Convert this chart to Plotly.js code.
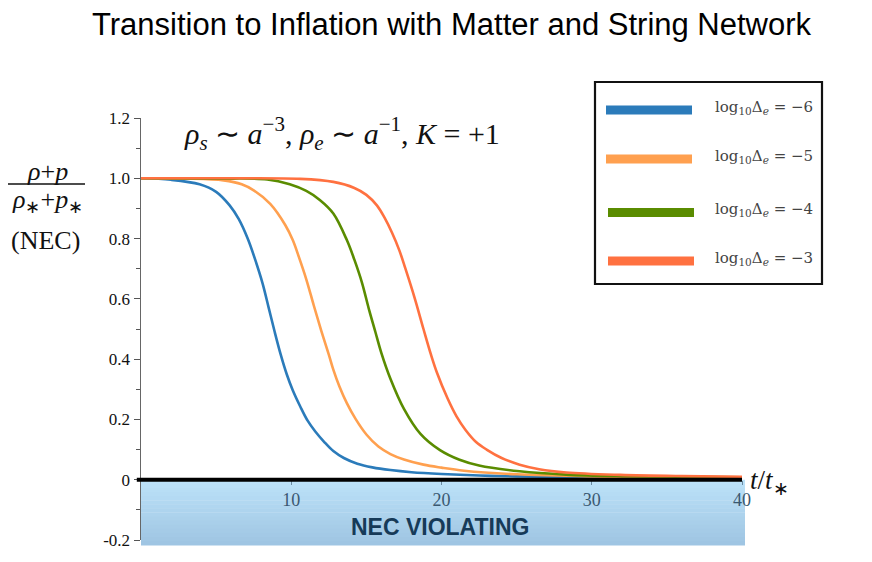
<!DOCTYPE html>
<html>
<head>
<meta charset="utf-8">
<script src="https://cdn.plot.ly/plotly-3.0.1.min.js"></script>
<style>html,body{margin:0;padding:0;background:#fff;}#chart{width:872px;height:562px;}</style>
</head>
<body>
<div id="chart"></div>
<script>
// ---- data ----
const seriesNames = ["-6", "-5", "-4", "-3"];
const seriesColors = ["#2b7bba", "#ffa04f", "#5a8c00", "#ff7140"];

const tBlue = [0, 2, 3.9, 5.0, 5.9, 6.5, 7.1, 7.6, 8.1, 8.5, 8.9, 9.3, 9.7, 10.1, 10.6, 11.1, 11.6, 12.2, 12.8, 13.5, 14.4, 15.4, 16.6, 18, 20, 22.5, 25, 30, 35, 40];
const vBlue = [1.0, 0.995, 0.98, 0.955, 0.91, 0.865, 0.80, 0.73, 0.65, 0.57, 0.49, 0.415, 0.35, 0.297, 0.243, 0.195, 0.16, 0.125, 0.095, 0.072, 0.053, 0.041, 0.032, 0.025, 0.019, 0.014, 0.011, 0.008, 0.006, 0.005];

const tOrange = [0, 3, 5.5, 6.7, 7.5, 8.6, 9.6, 10.1, 10.5, 11.0, 11.5, 12.0, 12.5, 12.8, 13.2, 13.7, 14.3, 15.0, 15.8, 16.6, 17.5, 18.8, 20, 21.5, 25, 30, 35, 40];
const vOrange = [1.0, 0.999, 0.993, 0.98, 0.96, 0.915, 0.845, 0.795, 0.74, 0.665, 0.578, 0.494, 0.415, 0.365, 0.31, 0.254, 0.2, 0.15, 0.11, 0.085, 0.067, 0.05, 0.04, 0.03, 0.018, 0.011, 0.008, 0.007];

const tGreen = [0, 5, 8.4, 9.9, 11.0, 11.9, 12.8, 13.7, 14.2, 14.7, 15.2, 15.6, 16.0, 16.6, 17.5, 18.6, 19.9, 21.2, 22.5, 25.2, 28.3, 32, 36, 40];
const vGreen = [1.0, 0.999, 0.996, 0.98, 0.958, 0.928, 0.883, 0.795, 0.73, 0.655, 0.56, 0.49, 0.42, 0.335, 0.235, 0.152, 0.098, 0.066, 0.047, 0.028, 0.017, 0.012, 0.01, 0.008];

const tRed = [0, 6, 10.6, 12.8, 14.2, 15.0, 15.7, 16.2, 16.7, 17.2, 17.6, 18.2, 18.8, 19.3, 19.7, 20.4, 21.0, 21.6, 22.3, 23.0, 24, 25.2, 26.5, 28.3, 31.9, 36, 40];
const vRed = [1.0, 1.0, 0.998, 0.988, 0.968, 0.945, 0.91, 0.87, 0.82, 0.76, 0.70, 0.605, 0.5, 0.415, 0.355, 0.27, 0.21, 0.165, 0.125, 0.1, 0.072, 0.05, 0.035, 0.024, 0.016, 0.012, 0.01];

const yTickVals = [-0.2, 0, 0.2, 0.4, 0.6, 0.8, 1.0, 1.2];
const yTickText = ["-0.2", "0", "0.2", "0.4", "0.6", "0.8", "1.0", "1.2"];
const xTickVals = [10, 20, 30, 40];
const xTickText = ["10", "20", "30", "40"];

const xs = [tBlue, tOrange, tGreen, tRed];
const ys = [vBlue, vOrange, vGreen, vRed];

// ---- traces ----
const traces = xs.map((x, i) => ({
  x: x, y: ys[i], type: "scatter", mode: "lines",
  line: {color: seriesColors[i], width: 2.6, shape: "spline", smoothing: 1.0},
  name: "log10Δe = " + seriesNames[i], showlegend: false, hoverinfo: "skip"
}));

// ---- NEC violating gradient band ----
const shapes = [];
const nStrips = 16;
const topC = [189, 227, 249], botC = [158, 196, 226];
const zeroFrac = 0.2 / 1.4;
const bandBottom = -0.012, bandRight = 1.005;
for (let k = 0; k < nStrips; k++) {
  const f = (k + 0.5) / nStrips;
  const c = topC.map((v, j) => Math.round(v + (botC[j] - v) * f));
  const y1 = zeroFrac - (zeroFrac - bandBottom) * k / nStrips;
  const y0 = zeroFrac - (zeroFrac - bandBottom) * (k + 1) / nStrips - 0.001;
  shapes.push({type: "rect", xref: "paper", yref: "paper", x0: 0, x1: bandRight, y0: y0, y1: y1,
    fillcolor: "rgb(" + c.join(",") + ")", line: {width: 0}, layer: "below"});
}
// thick zero line
shapes.push({type: "line", xref: "paper", yref: "y", x0: -0.007, x1: 1.0, y0: 0, y1: 0,
  line: {color: "#000", width: 4}, layer: "above"});

const px = v => (v - 141) / 601;
const py = v => (540 - v) / 422;

// fraction bar for y label
shapes.push({type: "line", xref: "paper", yref: "paper", x0: px(8), x1: px(85),
  y0: py(184), y1: py(184), line: {color: "#111", width: 1.4}});

// ---- custom legend ----
const legL = 595, legR = 822, legT = 82, legB = 284;
shapes.push({type: "rect", xref: "paper", yref: "paper", x0: px(legL), x1: px(legR), y0: py(legB), y1: py(legT),
  fillcolor: "#fff", line: {color: "#111", width: 2.2}});
const legRows = [110, 159, 212.5, 261];
const annotations = [];
seriesNames.forEach((nm, i) => {
  const off = (i >= 2 ? 2 : 0);
  shapes.push({type: "line", xref: "paper", yref: "paper", x0: px(606 + off), x1: px(692 + off),
    y0: py(legRows[i]), y1: py(legRows[i]), line: {color: seriesColors[i], width: 9}});
  annotations.push({xref: "paper", yref: "paper", x: px(713), y: py(legRows[i] - 3), xanchor: "left", yanchor: "middle",
    showarrow: false, text: "log<sub>10</sub>Δ<sub><i>e</i></sub> = −" + nm.replace("-", ""),
    font: {family: "DejaVu Serif, serif", size: 15, color: "#444"}});
});

// other annotations
annotations.push(
  {xref: "paper", yref: "paper", x: px(452), y: py(25), xanchor: "center", yanchor: "middle", showarrow: false,
   text: "Transition to Inflation with Matter and String Network",
   font: {family: "Liberation Sans, Arial, sans-serif", size: 31, color: "#000"}},
  {xref: "paper", yref: "paper", x: px(342), y: py(134), xanchor: "center", yanchor: "middle", showarrow: false,
   text: "<i>ρ</i><sub><i>s</i></sub> ∼ <i>a</i><sup>−3</sup>, <i>ρ</i><sub><i>e</i></sub> ∼ <i>a</i><sup>−1</sup>, <i>K</i> = +1",
   font: {family: "Liberation Serif, serif", size: 30, color: "#111"}},
  {xref: "paper", yref: "paper", x: px(47), y: py(171), xanchor: "center", yanchor: "middle", showarrow: false,
   text: "<i>ρ</i>+<i>p</i>", font: {family: "Liberation Serif, serif", size: 26, color: "#111"}},
  {xref: "paper", yref: "paper", x: px(47), y: py(201), xanchor: "center", yanchor: "middle", showarrow: false,
   text: "<i>ρ</i><sub>∗</sub>+<i>p</i><sub>∗</sub>", font: {family: "Liberation Serif, serif", size: 26, color: "#111"}},
  {xref: "paper", yref: "paper", x: px(45), y: py(240), xanchor: "center", yanchor: "middle", showarrow: false,
   text: "(NEC)", font: {family: "Liberation Serif, serif", size: 26, color: "#111"}},
  {xref: "paper", yref: "paper", x: px(748), y: py(482), xanchor: "left", yanchor: "middle", showarrow: false,
   text: "<i>t</i>/<i>t</i><sub>∗</sub>", font: {family: "Liberation Serif, serif", size: 27, color: "#111"}},
  {xref: "paper", yref: "paper", x: px(440), y: py(527), xanchor: "center", yanchor: "middle", showarrow: false,
   text: "<b>NEC VIOLATING</b>", font: {family: "Liberation Sans, Arial, sans-serif", size: 23, color: "#163a58"}}
);

const layout = {
  width: 872, height: 562,
  margin: {l: 141, r: 130, t: 118, b: 22, pad: 0},
  paper_bgcolor: "#fff", plot_bgcolor: "rgba(0,0,0,0)",
  showlegend: false,
  xaxis: {range: [0, 40], showgrid: false, zeroline: false, showline: false,
    anchor: "free", position: zeroFrac,
    tickvals: xTickVals, ticktext: xTickText, ticks: "outside", ticklen: 4, tickcolor: "#6a8aa0",
    tickfont: {family: "Liberation Serif, serif", size: 18, color: "#3a5870"}},
  yaxis: {range: [-0.2, 1.2], showgrid: false, zeroline: false, showline: true, linecolor: "#666", linewidth: 1.5,
    tickvals: yTickVals, ticktext: yTickText, ticks: "outside", ticklen: 6, tickcolor: "#555",
    tickfont: {family: "Liberation Serif, serif", size: 17, color: "#111"},
    minor: {dtick: 0.1, tick0: 0, ticks: "outside", ticklen: 4, tickcolor: "#555"}},
  shapes: shapes,
  annotations: annotations
};

Plotly.newPlot("chart", traces, layout, {displayModeBar: false, staticPlot: true});
</script>
</body>
</html>
